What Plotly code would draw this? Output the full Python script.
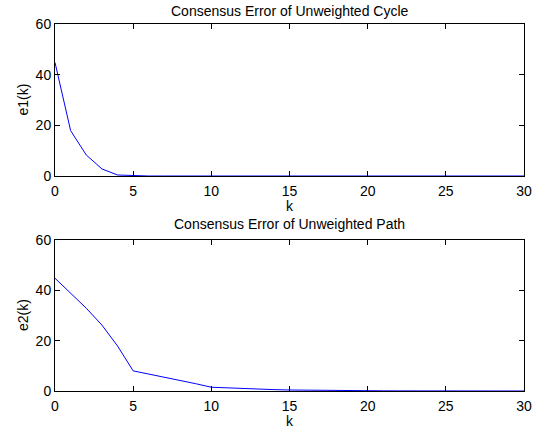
import plotly.graph_objects as go

k = list(range(31))
e1 = [44.8, 17.9, 8.3, 2.8, 0.4, 0.05, 0.0, 0.0, 0.0, 0.0, 0.0,
      0.0, 0.0, 0.0, 0.0, 0.0, 0.0, 0.0, 0.0, 0.0, 0.0,
      0.0, 0.0, 0.0, 0.0, 0.0, 0.0, 0.0, 0.0, 0.0, 0.0]
e2 = [44.8, 39.0, 32.9, 26.2, 17.9, 8.0, 6.8, 5.5, 4.2, 2.9, 1.5,
      1.2, 0.95, 0.75, 0.55, 0.4, 0.3, 0.22, 0.16, 0.12, 0.09,
      0.07, 0.05, 0.04, 0.03, 0.02, 0.015, 0.01, 0.01, 0.005, 0.005]
titles = ["Consensus Error of Unweighted Cycle", "Consensus Error of Unweighted Path"]
ylabels = ["e1(k)", "e2(k)"]
xticks = [0, 5, 10, 15, 20, 25, 30]
yticks = [0, 20, 40, 60]

W, H = 542, 432
FONT = "Liberation Sans, Arial, sans-serif"
FS = 14

fig = go.Figure()
fig.add_trace(go.Scatter(x=k, y=e1, mode="lines", line=dict(color="#0000ff", width=1),
                         xaxis="x", yaxis="y", showlegend=False))
fig.add_trace(go.Scatter(x=k, y=e2, mode="lines", line=dict(color="#0000ff", width=1),
                         xaxis="x2", yaxis="y2", showlegend=False))

# plot boxes in pixels: (left, right, top, bottom, title centre y)
boxes = [(55, 524, 24, 176, 11), (55, 524, 240, 391, 224)]

axis_common = dict(showgrid=False, zeroline=False, showline=True, linecolor="black",
                   linewidth=1, mirror="allticks", ticks="inside", ticklen=5,
                   tickcolor="black", automargin=False,
                   tickfont=dict(family=FONT, size=FS, color="black"))

layout = dict(width=W, height=H, margin=dict(l=0, r=0, t=0, b=0, autoexpand=False),
              plot_bgcolor="white", paper_bgcolor="white", showlegend=False)

annotations = []
for i, (l, r, t, b, ty) in enumerate(boxes):
    xs = "" if i == 0 else "2"
    layout["xaxis" + xs] = dict(axis_common, domain=[l / W, r / W], range=[0, 30],
                                tickvals=xticks, anchor="y" + xs, ticklabelstandoff=2)
    layout["yaxis" + xs] = dict(axis_common, domain=[1 - b / H, 1 - t / H], range=[0, 60],
                                tickvals=yticks, anchor="x" + xs)
    cx = (l + r) / 2 / W
    annotations.append(dict(text=titles[i], x=cx, y=1 - ty / H, xref="paper", yref="paper",
                            showarrow=False, font=dict(family=FONT, size=FS, color="black"),
                            xanchor="center", yanchor="middle"))
    annotations.append(dict(text="k", x=cx, y=1 - (b + 30) / H, xref="paper", yref="paper",
                            showarrow=False, font=dict(family=FONT, size=FS, color="black"),
                            xanchor="center", yanchor="middle"))
    annotations.append(dict(text=ylabels[i], x=22.5 / W, y=1 - (t + b) / 2 / H, xref="paper",
                            yref="paper", showarrow=False, textangle=-90,
                            font=dict(family=FONT, size=FS, color="black"),
                            xanchor="center", yanchor="middle"))
layout["annotations"] = annotations
fig.update_layout(**layout)
fig.write_html("out.html", config={"displayModeBar": False},
               post_script="document.body.style.margin='0';document.body.style.overflow='hidden';")
